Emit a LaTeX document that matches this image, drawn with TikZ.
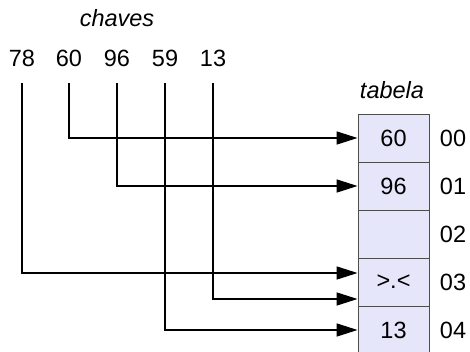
\documentclass[tikz,border=0pt]{standalone}
\usepackage{fontspec}
\setmainfont{Liberation Sans}
\usetikzlibrary{arrows.meta}
\definecolor{cellfill}{HTML}{E6E6FA}

\begin{document}
\begin{tikzpicture}[x=1pt, y=-1pt]
		\tikzstyle{key}=[minimum height=50pt, inner sep=0pt]
		\tikzstyle{cell}=[rectangle, draw=black!70, line width=0.9pt, fill=cellfill, minimum width=71pt, minimum height=48pt, inner sep=0pt]
		\tikzstyle{slot}=[inner sep=0pt]
		\tikzstyle{link}=[-{Triangle[length=21pt, width=13pt]}, line width=1.4pt]
		\tikzstyle{every node}=[font=\fontsize{23.5}{28}\selectfont]

		\useasboundingbox (0,0) rectangle (470,352);

		\node (chaves) at (117,18) {\itshape chaves};
		\node[key] (k78) at (22,58) {78};
		\node[key] (k60) at (69,58) {60};
		\node[key] (k96) at (117,58) {96};
		\node[key] (k59) at (165,58) {59};
		\node[key] (k13) at (213,58) {13};

		\node (tabela) at (392,90) {\itshape tabela};
		\node[cell] (c00) at (393.5,138) {60};
		\node[cell] (c01) at (393.5,186) {96};
		\node[cell] (c02) at (393.5,234) {};
		\node[cell] (c03) at (393.5,282) {>.<};
		\node[cell] (c04) at (393.5,330) {13};

		\node[slot] (s00) at (453,138) {00};
		\node[slot] (s01) at (453,186) {01};
		\node[slot] (s02) at (453,234) {02};
		\node[slot] (s03) at (453,282) {03};
		\node[slot] (s04) at (453,330) {04};

		\draw[link] (k60.south) |- (c00.west);
		\draw[link] (k96.south) |- (c01.west);
		\draw[link] (k78.south) |- ([yshift=9pt]c03.west);
		\draw[link] (k13.south) |- ([yshift=-17pt]c03.west);
		\draw[link] (k59.south) |- (c04.west);

	\end{tikzpicture}
\end{document}
